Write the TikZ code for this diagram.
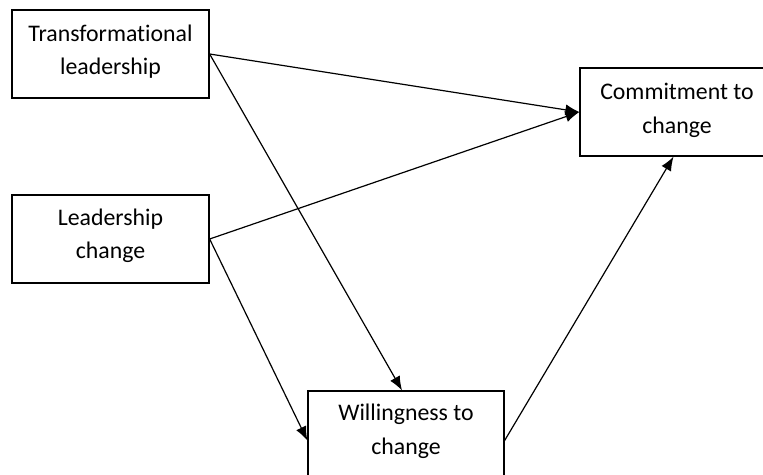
\documentclass[tikz,border=0pt]{standalone}
\usepackage{fontspec}
\setmainfont{Carlito}[Ligatures=NoCommon]
\usetikzlibrary{arrows.meta}
\begin{document}
\begin{tikzpicture}[x=1pt,y=-1pt,
  box/.style={draw, line width=1.3pt, inner sep=0pt, minimum width=197pt,
    minimum height=88pt},
  txt/.style={align=center, inner sep=0pt,
    font=\fontsize{23.8}{33.5}\selectfont},
  link/.style={line width=1.2pt, -{Latex[length=14pt,width=11pt]}}]
  \useasboundingbox (0,0) rectangle (763,474);
  % the four constructs
  \node[box] (tl) at (110.5,54) {};
  \node[txt] (tlt) at (110.5,51.5) {Transformational\\leadership};
  \node[box] (lc) at (110.5,239) {};
  \node[txt] (lct) at (110.5,236) {Leadership\\change};
  \node[box, minimum width=195pt] (cm) at (677.5,112) {};
  \node[txt] (cmt) at (677,110.5) {Commitment to\\change};
  \node[box, minimum width=196pt, minimum height=99pt] (wi) at (406,440.5) {};
  \node[txt] (wit) at (406,431.5) {Willingness to\\change};
  % hypothesised paths
  \draw[link] (tl.east) -- (cm.west);
  \draw[link] (tl.east) -- ([xshift=-4pt]wi.north);
  \draw[link] (lc.east) -- (cm.west);
  \draw[link] (lc.east) -- (wi.west);
  \draw[link] (wi.east) -- ([xshift=-4pt]cm.south);
\end{tikzpicture}
\end{document}
